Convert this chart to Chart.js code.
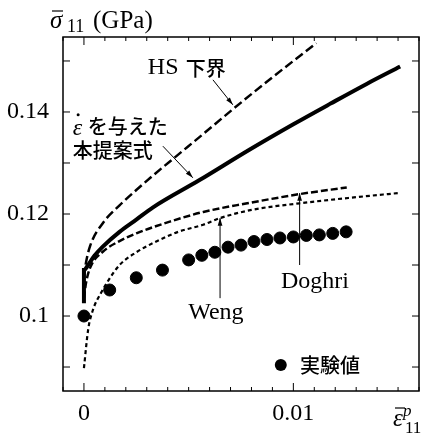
<!DOCTYPE html>
<html>
<head>
<meta charset="utf-8">
<script src="https://cdn.jsdelivr.net/npm/chart.js@4/dist/chart.umd.min.js"></script>
<style>
  html, body { margin: 0; background: #fff; overflow: hidden; }
  #wrap { width: 421px; height: 434px; }
</style>
</head>
<body>
<div id="wrap"><canvas id="stressChart"></canvas></div>
<script>
// plastic strain (x) and stress in GPa (y)
let expX = [0, 0.00123, 0.0025, 0.00375, 0.0050, 0.00563, 0.00625, 0.00688, 0.0075, 0.00812, 0.00874, 0.00936, 0.0100, 0.01062, 0.01124, 0.01188, 0.01252];
let expY = [0.1, 0.1051, 0.1075, 0.109, 0.1110, 0.1119, 0.1125, 0.1135, 0.1139, 0.1146, 0.1150, 0.1153, 0.1155, 0.1158, 0.1159, 0.1162, 0.1165];

let hsX = [0, 0.0001, 0.0003, 0.0009, 0.0017, 0.0025, 0.0034, 0.0044, 0.0057, 0.0071, 0.0090, 0.0111];
let hsY = [0.1075, 0.1105, 0.1138, 0.1182, 0.1217, 0.1247, 0.1279, 0.1313, 0.1357, 0.1405, 0.1468, 0.1535];

let propX = [0, 0, 0.0002, 0.0005, 0.0009, 0.0017, 0.0025, 0.0033, 0.0055, 0.0079, 0.0100, 0.0118, 0.0135, 0.0151];
let propY = [0.1025, 0.109, 0.110, 0.1118, 0.1136, 0.1165, 0.1189, 0.1213, 0.1266, 0.1326, 0.1376, 0.1417, 0.1455, 0.1489];

let doghriX = [0, 0.0001, 0.0003, 0.0009, 0.0017, 0.0025, 0.0041, 0.0057, 0.0078, 0.0103, 0.01255];
let doghriY = [0.1035, 0.1065, 0.1095, 0.1126, 0.1147, 0.1162, 0.1185, 0.1204, 0.1221, 0.1239, 0.1252];

let wengX = [0, 0.0002, 0.00043, 0.0008, 0.0012, 0.0017, 0.0025, 0.0033, 0.0045, 0.0057, 0.0065, 0.0080, 0.0103, 0.0130, 0.0150];
let wengY = [0.0898, 0.0973, 0.1012, 0.1044, 0.1072, 0.1100, 0.1125, 0.1143, 0.1165, 0.1179, 0.1192, 0.1208, 0.1221, 0.1233, 0.1241];

let xLabels = [0, 0.01];
let yLabels = [0.1, 0.12, 0.14];

let serif = '"Liberation Serif", serif';
let jp = '"Noto Sans CJK JP", sans-serif';

let pts = function (xs, ys) {
    return xs.map(function (x, i) { return { x: x, y: ys[i] }; });
};

let isLabel = function (v, list) {
    return list.some(function (t) { return Math.abs(v - t) < 1e-9; });
};

// frame, inside ticks, texts and arrows
let decor = {
    id: 'decor',
    afterDraw: function (chart) {
        let c = chart.ctx;
        let a = chart.chartArea;
        let xs = chart.scales.x, ys = chart.scales.y;
        let px = function (v) { return xs.getPixelForValue(v); };
        let py = function (v) { return ys.getPixelForValue(v); };
        c.save();
        c.strokeStyle = '#000';
        c.fillStyle = '#000';
        c.lineWidth = 1.5;
        c.strokeRect(a.left, a.top, a.right - a.left, a.bottom - a.top);

        c.lineWidth = 1;
        c.beginPath();
        for (let i = -1; i <= 16; i++) {
            let x = px(i * 0.001);
            let len = (i % 10 === 0) ? 8 : 4;
            c.moveTo(x, a.bottom); c.lineTo(x, a.bottom - len);
            c.moveTo(x, a.top); c.lineTo(x, a.top + len);
        }
        for (let i = 9; i <= 15; i++) {
            let y = py(i * 0.01);
            c.moveTo(a.left, y); c.lineTo(a.left + 7, y);
            c.moveTo(a.right, y); c.lineTo(a.right - 7, y);
        }
        c.stroke();

        let arrow = function (x1, y1, x2, y2) {
            let X1 = px(x1), Y1 = py(y1), X2 = px(x2), Y2 = py(y2);
            let ang = Math.atan2(Y2 - Y1, X2 - X1);
            c.lineWidth = 1;
            c.beginPath(); c.moveTo(X1, Y1); c.lineTo(X2, Y2); c.stroke();
            c.beginPath();
            c.moveTo(X2, Y2);
            c.lineTo(X2 - 8 * Math.cos(ang - 0.3), Y2 - 8 * Math.sin(ang - 0.3));
            c.lineTo(X2 - 8 * Math.cos(ang + 0.3), Y2 - 8 * Math.sin(ang + 0.3));
            c.closePath(); c.fill();
        };

        c.textBaseline = 'middle';
        c.textAlign = 'left';

        // HS lower bound
        c.font = '24px ' + serif;
        c.fillText('HS', px(0.00305), py(0.1486));
        c.font = '500 20px ' + jp;
        c.fillText('下界', px(0.00305) + 38, py(0.1486));
        arrow(0.00616, 0.1463, 0.00711, 0.1414);

        // proposed model
        c.font = 'italic 24px ' + serif;
        c.fillText('ε', px(-0.00054), py(0.1368));
        c.beginPath(); c.arc(px(-0.00054) + 5.5, py(0.1371) - 12, 1.5, 0, Math.PI * 2); c.fill();
        c.font = '500 20px ' + jp;
        c.fillText('を与えた', px(-0.00054) + 15, py(0.1371));
        c.fillText('本提案式', px(-0.00054), py(0.1325));
        arrow(0.00377, 0.1333, 0.0052, 0.1271);

        // Doghri, Weng
        c.font = '24px ' + serif;
        c.textAlign = 'center';
        c.fillText('Doghri', px(0.01103), py(0.1067));
        arrow(0.0103, 0.1100, 0.0103, 0.1241);
        c.fillText('Weng', px(0.0063), py(0.1006));
        arrow(0.0065, 0.1035, 0.0065, 0.1192);

        // legend
        c.beginPath(); c.arc(px(0.0094), py(0.0904), 6, 0, Math.PI * 2); c.fill();
        c.textAlign = 'left';
        c.font = '500 20px ' + jp;
        c.fillText('実験値', px(0.01032), py(0.0904));

        // axis titles
        c.textBaseline = 'alphabetic';
        c.font = 'italic 25px ' + serif;
        c.fillText('σ', 50, 28);
        c.lineWidth = 1.2;
        c.beginPath(); c.moveTo(52, 11); c.lineTo(63, 11); c.stroke();
        c.font = '18px ' + serif;
        c.fillText('11', 67, 32);
        c.font = '25px ' + serif;
        c.fillText('(GPa)', 93, 28);

        c.font = 'italic 25px ' + serif;
        c.fillText('ε', 393, 426);
        c.beginPath(); c.moveTo(395, 408); c.lineTo(405, 408); c.stroke();
        c.font = 'italic 17px ' + serif;
        c.fillText('p', 403, 416);
        c.font = '17px ' + serif;
        c.fillText('11', 405, 433);
        c.restore();
    }
};

let chartDraw = function () {
    let painter = document.getElementById('stressChart').getContext('2d');
    window.stressChart = new Chart(painter, {
        type: 'scatter',
        data: {
            datasets: [
                { label: 'HS 下界', data: pts(hsX, hsY), showLine: true, borderColor: '#000', borderWidth: 2.5, borderDash: [9, 4], pointRadius: 0, cubicInterpolationMode: 'monotone' },
                { label: '本提案式', data: pts(propX, propY), showLine: true, borderColor: '#000', borderWidth: 4, pointRadius: 0, cubicInterpolationMode: 'monotone' },
                { label: 'Doghri', data: pts(doghriX, doghriY), showLine: true, borderColor: '#000', borderWidth: 2.5, borderDash: [7, 3], pointRadius: 0, cubicInterpolationMode: 'monotone' },
                { label: 'Weng', data: pts(wengX, wengY), showLine: true, borderColor: '#000', borderWidth: 2.2, borderDash: [4, 3], pointRadius: 0, cubicInterpolationMode: 'monotone' },
                { label: '実験値', data: pts(expX, expY), showLine: false, backgroundColor: '#000', borderColor: '#000', pointRadius: 6, pointHoverRadius: 6 }
            ]
        },
        options: {
            responsive: true,
            maintainAspectRatio: false,
            animation: false,
            layout: { padding: { top: 37, right: 2, left: 0, bottom: 0 } },
            scales: {
                x: {
                    type: 'linear',
                    min: -0.001,
                    max: 0.016,
                    grid: { display: true, color: 'rgba(0,0,0,0)', drawOnChartArea: false, drawTicks: true, tickLength: 8 },
                    border: { display: false },
                    afterFit: function (s) { s.height = 43; s.paddingLeft = 0; s.paddingRight = 0; },
                    ticks: {
                        stepSize: 0.001,
                        autoSkip: false,
                        maxRotation: 0,
                        padding: 0,
                        color: '#000',
                        font: { family: serif, size: 24 },
                        callback: function (v) { return isLabel(v, xLabels) ? String(Math.round(v * 1000) / 1000) : ''; }
                    }
                },
                y: {
                    min: 0.0853,
                    max: 0.1547,
                    grid: { display: false },
                    border: { display: false },
                    afterFit: function (s) { s.width = 63; },
                    ticks: {
                        stepSize: 0.01,
                        autoSkip: false,
                        padding: 6,
                        color: '#000',
                        font: { family: serif, size: 24 },
                        callback: function (v) { return isLabel(v, yLabels) ? String(Math.round(v * 100) / 100) : ''; }
                    }
                }
            },
            plugins: {
                legend: { display: false },
                tooltip: { enabled: false }
            }
        },
        plugins: [decor]
    });

    // widen the canvas past the window so the frame's right edge lands at x = 419
    let wrap = document.getElementById('wrap');
    for (let k = 0; k < 2; k++) {
        let area = window.stressChart.chartArea;
        if (!area) break;
        let gap = 419 - area.right;
        if (Math.abs(gap) < 0.5) break;
        wrap.style.width = (wrap.clientWidth + Math.round(gap)) + 'px';
        window.stressChart.resize();
    }
};

window.onload = function () {
    chartDraw();
};
</script>
</body>
</html>
